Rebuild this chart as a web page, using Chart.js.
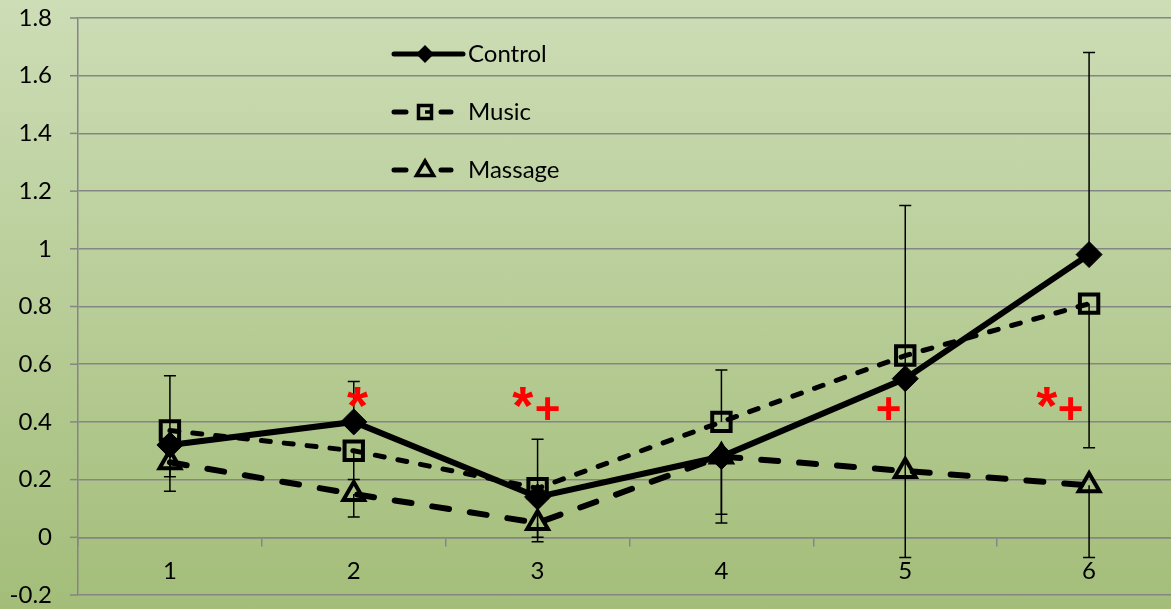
<!DOCTYPE html>
<html>
<head>
<meta charset="utf-8">
<script src="https://cdn.jsdelivr.net/npm/chart.js@4.4.0/dist/chart.umd.min.js"></script>
<style>
    html, body { margin: 0; padding: 0; overflow: hidden; }
    #wrap {
        width: 1198px;
        height: 612px;
        background: linear-gradient(to bottom, rgb(205, 221, 182), rgb(163, 189, 121));
    }
</style>
</head>
<body>
<div id="wrap"><canvas id="chart1" width="1198" height="612"></canvas></div>
<script>

// categories
var labels = ['1', '2', '3', '4', '5', '6'];

// series values
var control = [0.32, 0.40, 0.14, 0.28, 0.55, 0.98];
var music = [0.37, 0.30, 0.17, 0.40, 0.63, 0.81];
var massage = [0.26, 0.15, 0.05, 0.28, 0.23, 0.18];

// error bar ends (null = no bar in that direction)
var controlLow = [0.16, null, null, 0.08, -0.07, null];
var controlHigh = [0.56, 0.54, 0.34, null, 1.15, 1.68];
var musicLow = [null, 0.20, 0.00, null, null, 0.31];
var musicHigh = [null, null, null, 0.58, null, null];
var massageLow = [0.21, 0.07, -0.015, 0.05, null, -0.07];
var massageHigh = [null, null, null, null, null, null];

// significance marks: text, category index (0 based), value
var markText = ['*', '*', '+', '+', '*', '+'];
var markX = [1.02, 1.92, 2.055, 3.91, 4.77, 4.90];
var markY = [0.483, 0.483, 0.448, 0.448, 0.483, 0.448];

// y axis
var yMin = -0.2;
var yMax = 1.8;
var yStep = 0.2;

var gridColor = '#858585';
var fontFamily = 'Lato, "Liberation Sans", sans-serif';

var errorBars = {
    id: 'errorBars',
    beforeDatasetsDraw: function (chart) {
        var ctx = chart.ctx;
        var xs = chart.scales.x;
        var ys = chart.scales.y;
        var sets = [
            [control, controlLow, controlHigh],
            [music, musicLow, musicHigh],
            [massage, massageLow, massageHigh]
        ];
        ctx.save();
        ctx.strokeStyle = '#000';
        ctx.lineWidth = 1.5;
        sets.forEach(function (s) {
            for (var i = 0; i < s[0].length; i++) {
                var px = xs.getPixelForValue(i);
                var py = ys.getPixelForValue(s[0][i]);
                [s[1][i], s[2][i]].forEach(function (end) {
                    if (end === null) return;
                    var ey = ys.getPixelForValue(end);
                    ctx.beginPath();
                    ctx.moveTo(px, py);
                    ctx.lineTo(px, ey);
                    ctx.moveTo(px - 6, ey);
                    ctx.lineTo(px + 6, ey);
                    ctx.stroke();
                });
            }
        });
        ctx.restore();
    }
};

// short tick marks left of the y axis
var yTickMarks = {
    id: 'yTickMarks',
    afterDraw: function (chart) {
        var ctx = chart.ctx;
        var ys = chart.scales.y;
        var left = chart.chartArea.left;
        ctx.save();
        ctx.strokeStyle = gridColor;
        ctx.lineWidth = 1.5;
        ys.ticks.forEach(function (t) {
            var y = ys.getPixelForValue(t.value);
            ctx.beginPath();
            ctx.moveTo(left - 8, y);
            ctx.lineTo(left, y);
            ctx.stroke();
        });
        ctx.restore();
    }
};

var marks = {
    id: 'marks',
    afterDatasetsDraw: function (chart) {
        var ctx = chart.ctx;
        var xs = chart.scales.x;
        var ys = chart.scales.y;
        ctx.save();
        ctx.fillStyle = '#ff0000';
        ctx.textAlign = 'center';
        ctx.textBaseline = 'alphabetic';
        for (var i = 0; i < markText.length; i++) {
            ctx.font = markText[i] === '*' ? 'bold 54px "Liberation Sans"' : 'bold 44px "Liberation Sans"';
            var m = ctx.measureText(markText[i]);
            var px = xs.getPixelForValue(markX[i]);
            var py = ys.getPixelForValue(markY[i]);
            var base = py + (m.actualBoundingBoxAscent - m.actualBoundingBoxDescent) / 2;
            ctx.fillText(markText[i], px, base);
        }
        ctx.restore();
    }
};

function drawMarker(ctx, style, x, y, r) {
    ctx.beginPath();
    if (style === 'diamond') {
        ctx.moveTo(x, y - r);
        ctx.lineTo(x + r, y);
        ctx.lineTo(x, y + r);
        ctx.lineTo(x - r, y);
        ctx.closePath();
        ctx.fill();
    } else if (style === 'square') {
        ctx.rect(x - r, y - r, 2 * r, 2 * r);
        ctx.stroke();
    } else {
        ctx.moveTo(x, y - r);
        ctx.lineTo(x + r * 0.95, y + r * 0.6);
        ctx.lineTo(x - r * 0.95, y + r * 0.6);
        ctx.closePath();
        ctx.stroke();
    }
}

var legendBox = {
    id: 'legendBox',
    afterDraw: function (chart) {
        var ctx = chart.ctx;
        var a = chart.chartArea;
        var x0 = a.left + 313;
        var rows = [
            { name: 'Control', y: a.top + 36, width: 5, marker: 'diamond', r: 9 },
            { name: 'Music', y: a.top + 94, width: 5, marker: 'square', r: 6.5 },
            { name: 'Massage', y: a.top + 152, width: 5, marker: 'triangle', r: 9 }
        ];
        ctx.save();
        rows.forEach(function (row) {
            ctx.strokeStyle = '#000';
            ctx.fillStyle = '#000';
            ctx.lineCap = 'round';
            ctx.lineWidth = row.width;
            ctx.beginPath();
            if (row.marker !== 'diamond') {
                ctx.moveTo(x0 + 3, row.y);
                ctx.lineTo(x0 + 15, row.y);
                ctx.moveTo(x0 + 50, row.y);
                ctx.lineTo(x0 + 60, row.y);
            } else {
                ctx.moveTo(x0 + 3, row.y);
                ctx.lineTo(x0 + 72, row.y);
            }
            ctx.stroke();
            ctx.lineWidth = 3.5;
            ctx.lineCap = 'butt';
            drawMarker(ctx, row.marker, x0 + 34, row.y, row.r);
            if (row.marker === 'square') {
                ctx.beginPath();
                ctx.moveTo(x0 + 34, row.y);
                ctx.lineTo(x0 + 41, row.y);
                ctx.stroke();
            }
            ctx.fillStyle = '#000';
            ctx.font = '24px ' + fontFamily;
            ctx.textAlign = 'left';
            ctx.textBaseline = 'middle';
            ctx.fillText(row.name, x0 + 77, row.y);
        });
        ctx.restore();
    }
};

var chartConfig = {
    type: 'line',
    data: {
        labels: labels,
        datasets: [{
            label: 'Massage',
            data: massage,
            borderColor: '#000',
            borderWidth: 6,
            borderDash: [17, 21],
            borderCapStyle: 'round',
            pointStyle: 'triangle',
            pointRadius: 12,
            pointBorderWidth: 4,
            pointBorderColor: '#000',
            pointBackgroundColor: 'rgba(0,0,0,0)',
            tension: 0
        }, {
            label: 'Music',
            data: music,
            borderColor: '#000',
            borderWidth: 5,
            borderDash: [9, 14],
            borderCapStyle: 'round',
            pointStyle: 'rect',
            pointRadius: 13,
            pointBorderWidth: 4,
            pointBorderColor: '#000',
            pointBackgroundColor: 'rgba(0,0,0,0)',
            tension: 0
        }, {
            label: 'Control',
            data: control,
            borderColor: '#000',
            borderWidth: 6,
            pointStyle: 'rectRot',
            pointRadius: 13,
            pointBorderWidth: 1,
            pointBorderColor: '#000',
            pointBackgroundColor: '#000',
            tension: 0
        }]
    },
    options: {
        responsive: false,
        animation: false,
        layout: { padding: { top: 18, bottom: 12, left: 0, right: 2 } },
        plugins: {
            legend: { display: false },
            tooltip: { enabled: false }
        },
        scales: {
            x: {
                type: 'category',
                offset: true,
                position: { y: 0 },
                grid: {
                    drawOnChartArea: false,
                    offset: true,
                    tickLength: 8,
                    color: gridColor,
                    lineWidth: 1.5
                },
                border: { display: true, color: gridColor, width: 1.5 },
                ticks: {
                    color: '#000',
                    padding: 12,
                    maxRotation: 0,
                    font: { family: fontFamily, size: 24 }
                }
            },
            y: {
                min: yMin,
                max: yMax,
                afterFit: function (scale) { scale.width = 78; },
                grid: {
                    color: gridColor,
                    lineWidth: 1.5,
                    tickLength: 26,
                    tickColor: 'rgba(0,0,0,0)'
                },
                border: { display: true, color: gridColor, width: 1.5 },
                ticks: {
                    stepSize: yStep,
                    color: '#000',
                    padding: 0,
                    font: { family: fontFamily, size: 24 },
                    callback: function (v) { return String(Math.round(v * 10) / 10); }
                }
            }
        }
    },
    plugins: [errorBars, marks, legendBox, yTickMarks]
};

var chart1 = new Chart(document.getElementById('chart1'), chartConfig);
</script>
</body>
</html>
